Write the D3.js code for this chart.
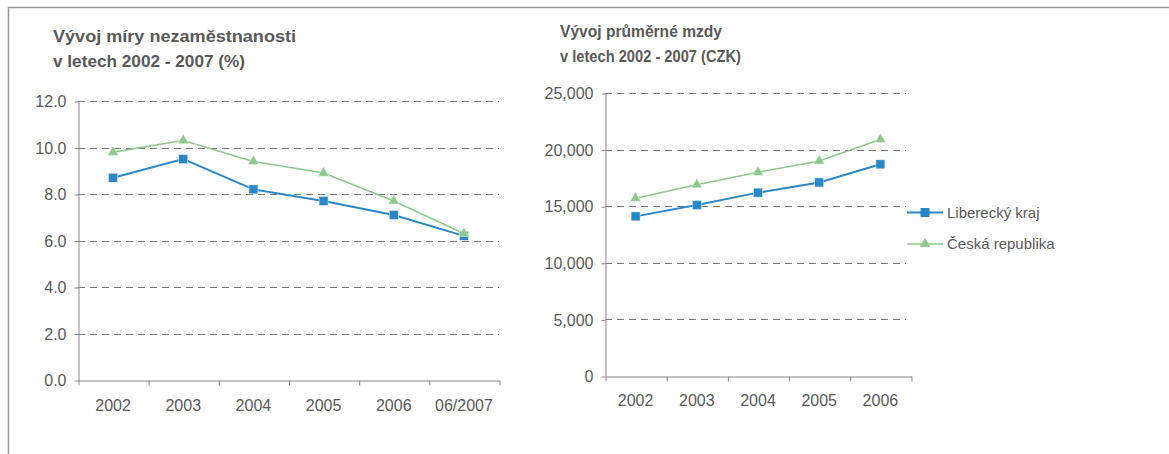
<!DOCTYPE html>
<html>
<head>
<meta charset="utf-8">
<script src="https://cdn.jsdelivr.net/npm/d3@7"></script>
<style>
  body { margin: 0; background: #fff; }
  svg { display: block; font-family: "Liberation Sans", Arial, sans-serif; }
</style>
</head>
<body>
<svg id="chart" width="1169" height="454"></svg>
<script>
// unemployment chart data (%)
const rateYears = ["2002", "2003", "2004", "2005", "2006", "06/2007"];
const rateLiberec = [8.7, 9.5, 8.2, 7.7, 7.1, 6.2];
const rateCR = [9.8, 10.3, 9.4, 8.9, 7.7, 6.3];
const rateTicks = [0, 2, 4, 6, 8, 10, 12];

// average wage chart data (CZK)
const wageYears = ["2002", "2003", "2004", "2005", "2006"];
const wageLiberec = [14100, 15100, 16200, 17100, 18700];
const wageCR = [15700, 16900, 18000, 19000, 20900];
const wageTicks = [0, 5000, 10000, 15000, 20000, 25000];

const seriesNames = ["Liberecký kraj", "Česká republika"];

const blue = "#2a88c6";
const green = "#8cc98a";
const textColor = "#595959";

const svg = d3.select("#chart");

// outer frame (top + left only)
svg.append("path")
  .attr("d", "M8.5,454 L8.5,7.5 L1169,7.5")
  .attr("fill", "none")
  .attr("stroke", "#999")
  .attr("stroke-width", 1.5);

function drawChart(opts) {
  const g = svg.append("g");

  // title, two lines, widths taken from the original
  opts.title.forEach((t, i) => {
    g.append("text")
      .attr("x", opts.titleX)
      .attr("y", opts.titleY + i * 24.5)
      .attr("fill", textColor)
      .attr("textLength", opts.titleWidths[i])
      .attr("lengthAdjust", "spacingAndGlyphs")
      .style("font-size", "16px")
      .style("font-weight", "bold")
      .text(t);
  });

  const x = d3.scaleBand().domain(opts.cats).range([opts.left, opts.right]).padding(0);
  const xEdge = d3.scaleLinear().domain([0, opts.cats.length]).range([opts.left, opts.right]);
  const y = d3.scaleLinear().domain(opts.domain).range([opts.bottom, opts.top]);

  // dashed gridlines
  g.append("g")
    .selectAll("line")
    .data(opts.ticks.filter(d => d > 0))
    .join("line")
    .attr("x1", opts.left)
    .attr("x2", opts.gridRight)
    .attr("y1", d => Math.round(y(d)) + 0.5)
    .attr("y2", d => Math.round(y(d)) + 0.5)
    .attr("stroke", "#777")
    .attr("stroke-dasharray", "7,5");

  // y axis
  const yAxis = g.append("g")
    .attr("transform", `translate(${opts.left + 0.5},0.5)`)
    .call(d3.axisLeft(y).tickValues(opts.ticks).tickFormat(opts.fmt).tickSize(4).tickSizeOuter(0));
  yAxis.select(".domain").attr("stroke", "#888");
  yAxis.selectAll(".tick line").attr("stroke", "#888");
  yAxis.selectAll(".tick text")
    .attr("fill", textColor)
    .attr("x", -opts.yLabelGap)
    .style("font-size", "16px")
    .style("font-family", "Liberation Sans, Arial, sans-serif");

  // x axis: boundary ticks
  const xAxis = g.append("g")
    .attr("transform", `translate(0.5,${opts.bottom + 0.5})`)
    .call(d3.axisBottom(xEdge).ticks(opts.cats.length).tickFormat("").tickSize(5).tickSizeOuter(0));
  xAxis.select(".domain").attr("stroke", "#888");
  xAxis.selectAll(".tick line").attr("stroke", "#888");

  // x labels at band centres
  const xLabels = g.append("g")
    .attr("transform", `translate(0,${opts.bottom})`)
    .call(d3.axisBottom(x).tickSize(0).tickPadding(opts.xLabelPad));
  xLabels.select(".domain").remove();
  xLabels.selectAll(".tick text")
    .attr("fill", textColor)
    .style("font-size", "16px")
    .style("font-family", "Liberation Sans, Arial, sans-serif");

  const cx = (d, i) => x(opts.cats[i]) + x.bandwidth() / 2;

  const line = d3.line().x(cx).y(d => y(d));

  // Czech Republic (green, triangles)
  g.append("path")
    .datum(opts.cr)
    .attr("d", line)
    .attr("fill", "none")
    .attr("stroke", green)
    .attr("stroke-width", 1.6);

  // Liberec region (blue, squares)
  g.append("path")
    .datum(opts.lib)
    .attr("d", line)
    .attr("fill", "none")
    .attr("stroke", blue)
    .attr("stroke-width", 2);

  g.append("g")
    .selectAll("rect")
    .data(opts.lib)
    .join("rect")
    .attr("x", (d, i) => cx(d, i) - 4.5)
    .attr("y", d => y(d) - 4.5)
    .attr("width", 9)
    .attr("height", 9)
    .attr("fill", blue)
    .attr("stroke", "#e6f1f9")
    .attr("stroke-width", 0.5);

  const tri = d3.symbol().type(d3.symbolTriangle).size(50);
  g.append("g")
    .selectAll("path")
    .data(opts.cr)
    .join("path")
    .attr("d", tri)
    .attr("transform", (d, i) => `translate(${cx(d, i)},${y(d)})`)
    .attr("fill", green)
    .attr("stroke", "#eef7ee")
    .attr("stroke-width", 0.5);
}

drawChart({
  title: ["Vývoj míry nezaměstnanosti", "v letech 2002 - 2007 (%)"],
  titleWidths: [243, 192],
  titleX: 53, titleY: 42,
  cats: rateYears,
  lib: rateLiberec,
  cr: rateCR,
  ticks: rateTicks,
  domain: [0, 12],
  fmt: d3.format(".1f"),
  left: 78, right: 499, gridRight: 499,
  top: 101, bottom: 380,
  yLabelGap: 12,
  xLabelPad: 20
});

drawChart({
  title: ["Vývoj průměrné mzdy", "v letech 2002 - 2007 (CZK)"],
  titleWidths: [162, 181],
  titleX: 560, titleY: 37,
  cats: wageYears,
  lib: wageLiberec,
  cr: wageCR,
  ticks: wageTicks,
  domain: [0, 25000],
  fmt: d3.format(","),
  left: 605, right: 911, gridRight: 906,
  top: 93, bottom: 376,
  yLabelGap: 12,
  xLabelPad: 19
});

// legend
const legend = svg.append("g");
const legendRows = [
  { name: seriesNames[0], color: blue, shape: "square", y: 212.5, width: 2 },
  { name: seriesNames[1], color: green, shape: "triangle", y: 244, width: 1.6 }
];
legendRows.forEach(r => {
  legend.append("line")
    .attr("x1", 907).attr("x2", 943)
    .attr("y1", r.y).attr("y2", r.y)
    .attr("stroke", r.color)
    .attr("stroke-width", r.width);
  if (r.shape === "square") {
    legend.append("rect")
      .attr("x", 925 - 4.5).attr("y", r.y - 4.5)
      .attr("width", 9).attr("height", 9)
      .attr("fill", r.color);
  } else {
    legend.append("path")
      .attr("d", d3.symbol().type(d3.symbolTriangle).size(50))
      .attr("transform", `translate(925,${r.y})`)
      .attr("fill", r.color);
  }
  legend.append("text")
    .attr("x", 947)
    .attr("y", r.y)
    .attr("dy", "0.35em")
    .attr("fill", textColor)
    .style("font-size", "15px")
    .text(r.name);
});
</script>
</body>
</html>
